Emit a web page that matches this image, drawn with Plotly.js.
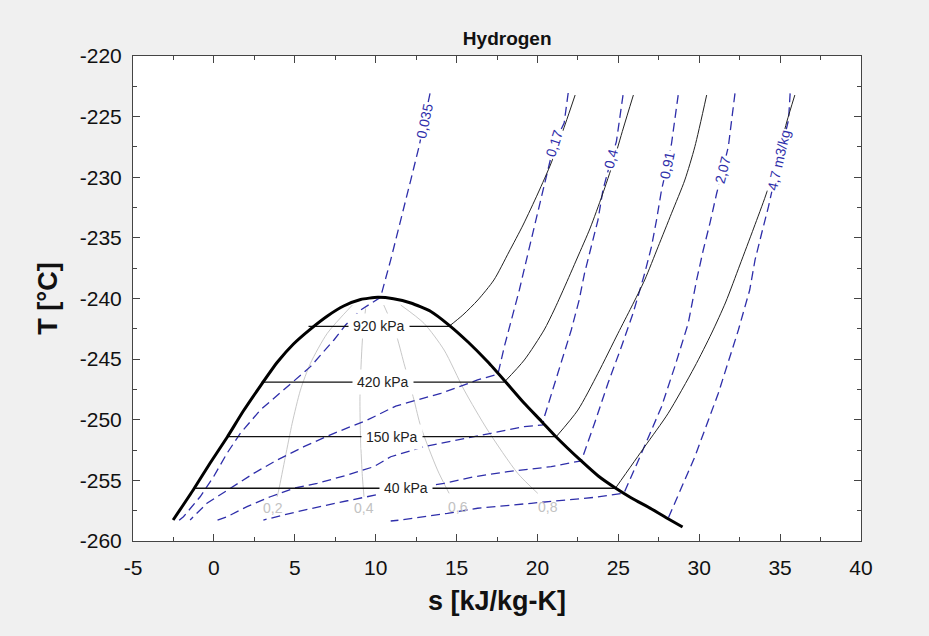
<!DOCTYPE html>
<html><head><meta charset="utf-8">
<script src="https://cdn.plot.ly/plotly-3.0.1.min.js"></script>
<style>html,body{margin:0;padding:0;background:#f0f0f0}#chart{width:929px;height:636px}</style>
</head><body><div id="chart"></div>
<script>
// ---- Axis ticks ----
const sTickVals = [-5,0,5,10,15,20,25,30,35,40];
const sTickText = ['-5','0','5','10','15','20','25','30','35','40'];
const tTickVals = [-260,-255,-250,-245,-240,-235,-230,-225,-220];
const tTickText = ['-260','-255','-250','-245','-240','-235','-230','-225','-220'];

// ---- Saturation dome ----
const domeS = [-2.52,-1.28,-0.23,0.83,1.82,2.87,3.93,4.92,5.97,7.02,8.02,9.07,10.13,11.10,12.17,13.41,14.53,15.71,16.94,17.93,19.17,20.23,21.16,22.71,23.76,24.82,25.81,27.05,28.10,28.97];
const domeT = [-258.27,-255.79,-253.57,-251.42,-249.28,-247.22,-245.24,-243.75,-242.52,-241.44,-240.62,-240.08,-239.90,-240.02,-240.37,-241.07,-242.19,-243.59,-245.24,-246.72,-248.62,-250.10,-251.42,-253.40,-254.64,-255.63,-256.45,-257.36,-258.19,-258.85];

// ---- Isobars (two-phase plateau) ----
const isobarNames = ['920 kPa','420 kPa','150 kPa','40 kPa'];
const isobarT = [-242.3,-246.9,-251.4,-255.65];
const isobarLiqS = [5.85,2.95,0.81,-1.16];
const isobarVapS = [14.53,17.95,21.16,24.82];
const isobarLabelS = [10.19,10.48,11.04,11.86];

// ---- Isobars (superheated vapour) ----
const p920S = [14.53,15.39,16.32,17.31,18.24,19.11,20.04,20.85,21.72,22.33];
const p920T = [-242.3,-241.36,-240.12,-238.47,-236.16,-233.94,-231.30,-228.82,-225.61,-223.22];
const p420S = [17.95,19.19,20.41,21.03,21.65,22.46,23.26,24.01,24.69,25.31,25.93];
const p420T = [-246.9,-245.07,-242.60,-240.95,-239.13,-236.66,-234.19,-231.46,-228.74,-225.94,-223.22];
const p150S = [21.16,22.50,23.74,24.98,25.81,26.63,27.46,28.29,29.11,29.73,30.46];
const p150T = [-251.4,-249.20,-246.17,-242.87,-240.70,-238.47,-235.73,-232.97,-230.23,-227.48,-223.22];
const p40S = [24.82,26.63,28.08,29.71,30.77,31.64,32.51,33.37,34.12,34.79,35.41,35.91];
const p40T = [-255.65,-252.22,-249.47,-245.65,-242.85,-240.29,-237.24,-234.19,-231.46,-228.58,-225.44,-223.22];

// ---- Isochores (m3/kg) ----
const v0035S = [13.36,13.02,12.68,12.17,11.55,10.93,10.30,9.07,8.14,7.42,5.97,4.53,2.87,1.63,0.81,-0.02,-0.85,-1.88,-2.20];
const v0035T = [-223.08,-225.36,-227.48,-230.23,-233.53,-236.82,-239.90,-240.95,-242.19,-243.42,-245.62,-247.27,-249.20,-251.12,-252.77,-254.70,-256.35,-258.00,-258.35];
const v017S = [21.90,21.65,21.03,20.33,19.61,18.88,18.37,17.95,17.56,16.30,14.03,11.24,9.49,7.42,5.56,3.91,2.46,0.81,-0.43,-1.47];
const v017T = [-223.05,-225.53,-227.26,-231.05,-235.18,-239.30,-241.77,-243.98,-246.23,-246.72,-247.82,-248.87,-250.02,-251.12,-252.22,-253.32,-254.42,-255.79,-256.89,-258.27];
const v04S = [25.29,25.08,24.88,24.57,24.05,23.74,23.33,22.91,22.58,22.09,21.26,20.43,20.33,19.19,17.13,15.06,12.99,10.93,9.89,8.25,6.39,4.94,3.49,2.05,0.81,0.08];
const v04T = [-223.22,-225.28,-227.07,-228.44,-231.05,-233.53,-235.73,-237.92,-240.12,-242.60,-246.17,-249.75,-250.43,-250.57,-251.12,-251.67,-252.22,-253.05,-253.87,-254.56,-255.24,-255.65,-256.35,-257.17,-258.00,-258.35];
const v091S = [28.70,28.49,28.29,28.01,27.67,27.36,27.05,26.63,25.91,25.19,24.36,23.53,22.71,21.88,20.85,18.16,16.09,14.23,11.55,8.25,5.15,3.06];
const v091T = [-223.22,-225.28,-227.20,-229.07,-231.05,-233.53,-235.73,-237.92,-241.22,-243.98,-246.99,-250.29,-253.40,-253.59,-253.87,-254.28,-254.70,-255.24,-255.79,-256.68,-257.58,-258.27];
const v207S = [32.21,32.01,31.80,31.45,31.08,30.66,30.25,29.84,29.32,28.49,27.67,26.43,25.35,23.53,21.88,19.61,16.30,14.44,11.55,10.93];
const v207T = [-223.08,-225.28,-227.48,-229.40,-231.32,-233.80,-236.00,-238.47,-242.05,-245.62,-248.92,-252.77,-256.05,-256.40,-256.62,-256.89,-257.30,-257.72,-258.27,-258.35];
const v47S = [35.62,35.52,34.92,34.28,33.86,33.45,33.12,32.42,31.18,29.73,28.08];
const v47T = [-223.08,-225.28,-228.58,-232.43,-234.62,-236.82,-239.30,-242.60,-247.82,-253.05,-258.13];
const isochoreNames = ['0,035','0,17','0,4','0,91','2,07','4,7 m3/kg'];
const isochoreLabelS = [13.02,21.03,24.57,28.01,31.45,34.92];
const isochoreLabelT = [-225.36,-227.26,-228.44,-229.07,-229.40,-228.58];

// ---- Quality lines ----
const q02S = [8.56,7.01,5.97,5.35,4.84,4.42,4.01,3.91];
const q02T = [-240.54,-242.87,-245.34,-247.55,-250.29,-253.05,-255.79,-256.35];
const q04S = [9.38,9.18,9.03,9.07,9.18,9.28];
const q04T = [-240.82,-243.42,-248.10,-251.67,-254.70,-256.35];
const q06S = [10.50,11.24,11.75,12.37,12.79,13.82,14.54];
const q06T = [-240.54,-242.87,-245.34,-248.37,-250.57,-254.14,-256.07];
const q08S = [11.55,12.99,14.23,15.47,16.92,18.78,20.02];
const q08T = [-240.54,-242.05,-244.25,-247.55,-250.85,-254.42,-256.07];
const qualityNames = ['0,2','0,4','0,6','0,8'];
const qualityLabelS = [3.68,9.28,15.06,20.64];
const qualityLabelT = [-257.28,-257.30,-257.17,-257.17];

// ---- styling / assembly ----
const BLUE = '#2e2eaa';
const FONT = 'Liberation Sans, Arial, sans-serif';
const traces = [];
function addLine(s, t, color, width, dash, shape, smoothing) {
  traces.push({x: s, y: t, type: 'scatter', mode: 'lines',
    line: {color: color, width: width, dash: dash || 'solid', shape: shape || 'linear', smoothing: smoothing || 0.7},
    hoverinfo: 'skip', showlegend: false});
}
[[q02S,q02T],[q04S,q04T],[q06S,q06T],[q08S,q08T]].forEach(p => addLine(p[0], p[1], '#c8c8c8', 1, 'solid', 'spline'));
[[v0035S,v0035T],[v017S,v017T],[v04S,v04T],[v091S,v091T],[v207S,v207T],[v47S,v47T]].forEach(p => addLine(p[0], p[1], BLUE, 1.3, '9px,5px'));
isobarT.forEach((t, i) => addLine([isobarLiqS[i], isobarVapS[i]], [t, t], '#111', 1.3));
[[p920S,p920T],[p420S,p420T],[p150S,p150T],[p40S,p40T]].forEach(p => addLine(p[0], p[1], '#222', 1, 'solid', 'spline'));
addLine(domeS, domeT, '#000', 3, 'solid', 'spline', 0.5);

const angles = [-78, -72, -75, -78, -76, -77];
const annotations = [];
isobarNames.forEach((n, i) => annotations.push({x: isobarLabelS[i], y: isobarT[i], text: n, showarrow: false,
  font: {size: 14, color: '#222', family: FONT}, bgcolor: 'white', borderpad: 4}));
isochoreNames.forEach((n, i) => annotations.push({x: isochoreLabelS[i], y: isochoreLabelT[i], text: n, showarrow: false,
  textangle: angles[i], font: {size: 14, color: BLUE, family: FONT}, bgcolor: 'white', borderpad: 1}));
qualityNames.forEach((n, i) => annotations.push({x: qualityLabelS[i], y: qualityLabelT[i], text: n, showarrow: false,
  font: {size: 14, color: '#c2c2c2', family: FONT}}));

const axisCommon = {
  ticks: 'inside', ticklen: 7, tickwidth: 1, tickcolor: '#444', tickmode: 'array',
  showline: true, linecolor: '#444', linewidth: 1, mirror: 'allticks',
  showgrid: false, zeroline: false,
  tickfont: {size: 21, color: '#111', family: FONT}
};
const layout = {
  width: 929, height: 636,
  paper_bgcolor: '#f0f0f0', plot_bgcolor: 'white',
  margin: {l: 133, r: 68, t: 56, b: 95},
  font: {family: FONT, color: '#111'},
  title: {text: '<b>Hydrogen</b>', font: {size: 19, color: '#111'}, x: 0.514, xref: 'paper', xanchor: 'center', y: 1 - 38/636, yanchor: 'middle'},
  xaxis: Object.assign({}, axisCommon, {range: [-5, 40], tickvals: sTickVals, ticktext: sTickText, ticklabelstandoff: 8,
    minor: {ticks: 'inside', ticklen: 4, tick0: -5, dtick: 2.5, tickcolor: '#444', showgrid: false},
    title: {text: '<b>s [kJ/kg-K]</b>', font: {size: 27, color: '#111'}, standoff: 12}}),
  yaxis: Object.assign({}, axisCommon, {range: [-260, -220], tickvals: tTickVals, ticktext: tTickText, ticklabelstandoff: 6,
    minor: {ticks: 'inside', ticklen: 4, tick0: -260, dtick: 2.5, tickcolor: '#444', showgrid: false},
    title: {text: '<b>T [°C]</b>', font: {size: 27, color: '#111'}, standoff: 14}}),
  annotations: annotations,
  showlegend: false, hovermode: false
};
Plotly.newPlot('chart', traces, layout, {displayModeBar: false, staticPlot: true});
</script></body></html>
